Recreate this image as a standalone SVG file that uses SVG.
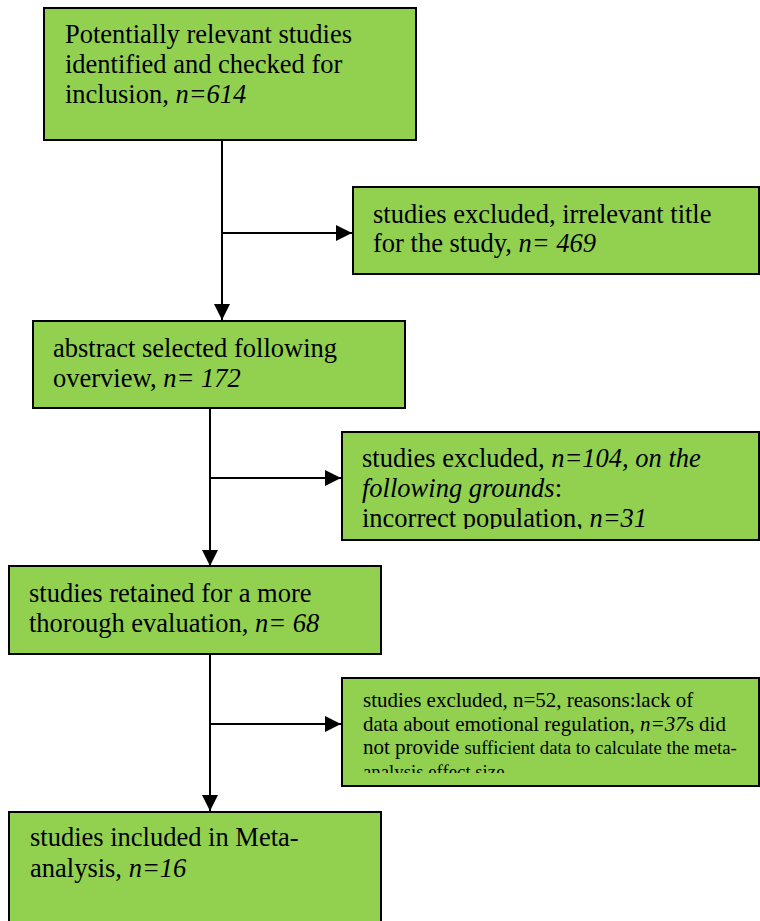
<svg xmlns="http://www.w3.org/2000/svg" width="760" height="921" viewBox="0 0 760 921">
<style>
.box{fill:#92D050;stroke:#000;stroke-width:2}
.t{font-family:"Liberation Serif","Times New Roman",serif;font-size:26.5px;fill:#000}
.s{font-family:"Liberation Serif","Times New Roman",serif;font-size:21px;fill:#000}
.ss{font-size:18.8px}
.i{font-style:italic}
.ln{stroke:#000;stroke-width:2;fill:none}
</style>
<defs>
<marker id="ah" viewBox="0 0 16 16" refX="16" refY="8" markerWidth="16" markerHeight="16" markerUnits="userSpaceOnUse" orient="auto">
<path d="M0,0 L16,8 L0,16 Z" fill="#000"/>
</marker>
<clipPath id="c104"><rect x="342" y="433" width="416" height="96"/></clipPath>
<clipPath id="c52"><rect x="342" y="679" width="416" height="94"/></clipPath>
</defs>
<g id="connectors">
<line class="ln" x1="222" y1="140" x2="222" y2="320" marker-end="url(#ah)"/>
<line class="ln" x1="222" y1="233" x2="352" y2="233" marker-end="url(#ah)"/>
<line class="ln" x1="210" y1="408" x2="210" y2="566" marker-end="url(#ah)"/>
<line class="ln" x1="210" y1="478" x2="341" y2="478" marker-end="url(#ah)"/>
<line class="ln" x1="210" y1="654" x2="210" y2="811" marker-end="url(#ah)"/>
<line class="ln" x1="210" y1="724" x2="341" y2="724" marker-end="url(#ah)"/>
</g>
<g id="n1">
<rect class="box" x="44" y="8" width="372" height="132"/>
<text class="t" x="65" y="43">Potentially relevant studies</text>
<text class="t" x="65" y="73">identified and checked for</text>
<text class="t" x="65" y="103">inclusion, <tspan class="i">n=614</tspan></text>
</g>
<g id="n2">
<rect class="box" x="353" y="187" width="406" height="87"/>
<text class="t" x="373" y="223">studies excluded, irrelevant title</text>
<text class="t" x="373" y="252">for the study, <tspan class="i">n= 469</tspan></text>
</g>
<g id="n3">
<rect class="box" x="33" y="321" width="372" height="87"/>
<text class="t" x="53" y="357">abstract selected following</text>
<text class="t" x="53" y="387">overview, <tspan class="i">n= 172</tspan></text>
</g>
<g id="n4">
<rect class="box" x="342" y="432" width="417" height="108"/>
<g clip-path="url(#c104)">
<text class="t" x="362" y="467">studies excluded, <tspan class="i">n=104, on the</tspan></text>
<text class="t" x="362" y="497"><tspan class="i">following grounds</tspan>:</text>
<text class="t" x="362" y="527">incorrect population, <tspan class="i">n=31</tspan></text>
</g>
</g>
<g id="n5">
<rect class="box" x="9" y="566" width="372" height="88"/>
<text class="t" x="29" y="602">studies retained for a more</text>
<text class="t" x="29" y="632">thorough evaluation, <tspan class="i">n= 68</tspan></text>
</g>
<g id="n6">
<rect class="box" x="342" y="678" width="417" height="108"/>
<g clip-path="url(#c52)">
<text class="s" x="363" y="707">studies excluded, n=52, reasons:lack of</text>
<text class="s" x="363" y="731">data about emotional regulation, <tspan class="i">n=37</tspan>s did</text>
<text class="s" x="363" y="754">not provide <tspan class="ss">sufficient data to calculate the meta-</tspan></text>
<text class="s" x="363" y="778"><tspan class="ss">analysis effect size</tspan></text>
</g>
</g>
<g id="n7">
<rect class="box" x="9" y="812" width="372" height="115"/>
<text class="t" x="30" y="846">studies included in Meta-</text>
<text class="t" x="30" y="877">analysis, <tspan class="i">n=16</tspan></text>
</g>
</svg>
